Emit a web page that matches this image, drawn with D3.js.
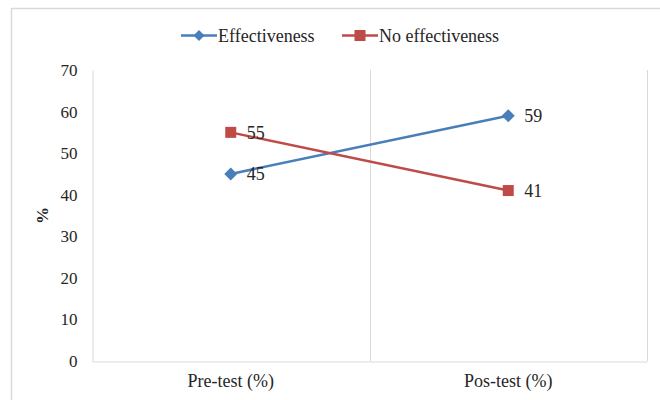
<!DOCTYPE html>
<html>
<head>
<meta charset="utf-8">
<script src="https://cdn.jsdelivr.net/npm/d3@7"></script>
<style>
  html, body { margin: 0; padding: 0; background: #fff; }
  svg { display: block; }
  svg text { font-family: "Liberation Serif", "Times New Roman", Times, serif !important; }
</style>
</head>
<body>
<svg id="chart" width="660" height="400"></svg>
<script>
// Categories and series values (%)
const categories = ["Pre-test (%)", "Pos-test (%)"];
const effectiveness = [45, 59];
const noEffectiveness = [55, 41];
const seriesNames = ["Effectiveness", "No effectiveness"];
const yTicks = [0, 10, 20, 30, 40, 50, 60, 70];

const TEXT = "#262626";
const colors = ["#4a7ebb", "#be4b48"];
const series = [
  { name: seriesNames[0], values: effectiveness, color: colors[0], marker: "diamond" },
  { name: seriesNames[1], values: noEffectiveness, color: colors[1], marker: "square" }
];

const svg = d3.select("#chart");
const plot = { left: 92, right: 647, top: 70, bottom: 361 };

const x = d3.scaleBand().domain(categories).range([plot.left, plot.right]).paddingInner(0).paddingOuter(0);
const y = d3.scaleLinear().domain([0, 70]).range([plot.bottom, plot.top]);
const cx = c => x(c) + x.bandwidth() / 2;

// Outer chart frame
svg.append("rect")
  .attr("x", 11.5).attr("y", 8.5).attr("width", 660).attr("height", 400)
  .attr("fill", "none").attr("stroke", "#d9d9d9").attr("stroke-width", 1.5);

// Category separators
const seps = categories.slice(1).map(c => x(c)).concat([plot.right]);
svg.append("g").selectAll("line").data(seps).join("line")
  .attr("x1", d => Math.round(d) + 0.5).attr("x2", d => Math.round(d) + 0.5)
  .attr("y1", plot.top).attr("y2", plot.bottom)
  .attr("stroke", "#d9d9d9").attr("stroke-width", 1);

// Y axis
const yAxis = d3.axisLeft(y).tickValues(yTicks).tickSize(0).tickPadding(15);
const gy = svg.append("g").attr("transform", `translate(${plot.left + 0.5},0)`).call(yAxis);
gy.attr("font-family", null).attr("font-size", null);
gy.select(".domain").attr("stroke", "#d9d9d9");
gy.selectAll("text").style("font-size", "17px").attr("fill", TEXT);

// X axis
const xAxis = d3.axisBottom(x).tickSize(0).tickPadding(13);
const gx = svg.append("g").attr("transform", `translate(0,${plot.bottom + 0.5})`).call(xAxis);
gx.attr("font-family", null).attr("font-size", null);
gx.select(".domain").attr("stroke", "#d9d9d9");
gx.selectAll("text").style("font-size", "18px").attr("fill", TEXT);

// Y axis title
svg.append("text")
  .attr("transform", `translate(48,${(plot.top + plot.bottom) / 2}) rotate(-90)`)
  .attr("text-anchor", "middle")
  .style("font-size", "17px").style("font-weight", "bold")
  .attr("fill", TEXT)
  .text("%");

// Marker drawing
function drawMarker(g, type, color, px, py, s) {
  if (type === "diamond") {
    g.append("path")
      .attr("d", `M${px},${py - s}L${px + s},${py}L${px},${py + s}L${px - s},${py}Z`)
      .attr("fill", color);
  } else {
    g.append("rect")
      .attr("x", px - s).attr("y", py - s).attr("width", 2 * s).attr("height", 2 * s)
      .attr("fill", color);
  }
}

const line = d3.line().x(d => cx(d.c)).y(d => y(d.v));

series.forEach(s => {
  const pts = categories.map((c, i) => ({ c, v: s.values[i] }));
  const g = svg.append("g");
  g.append("path").datum(pts).attr("d", line)
    .attr("fill", "none").attr("stroke", s.color).attr("stroke-width", 2.5);
  pts.forEach(p => drawMarker(g, s.marker, s.color, cx(p.c), y(p.v), s.marker === "diamond" ? 6.5 : 5.5));
  g.selectAll("text.lbl").data(pts).join("text")
    .attr("class", "lbl")
    .attr("x", d => cx(d.c) + 16).attr("y", d => y(d.v))
    .attr("dy", "0.35em")
    .style("font-size", "18px").attr("fill", TEXT)
    .text(d => d.v);
});

// Legend
const legend = [
  { name: seriesNames[0], color: colors[0], marker: "diamond", x0: 181 },
  { name: seriesNames[1], color: colors[1], marker: "square", x0: 342 }
];
const ly = 35.5;
legend.forEach(l => {
  const g = svg.append("g");
  g.append("line").attr("x1", l.x0).attr("x2", l.x0 + 36).attr("y1", ly).attr("y2", ly)
    .attr("stroke", l.color).attr("stroke-width", 2.5);
  drawMarker(g, l.marker, l.color, l.x0 + 18, ly, l.marker === "diamond" ? 5.5 : 5.5);
  g.append("text").attr("x", l.x0 + 37).attr("y", ly).attr("dy", "0.35em")
    .style("font-size", "18px").attr("fill", TEXT)
    .text(l.name);
});
</script>
</body>
</html>
